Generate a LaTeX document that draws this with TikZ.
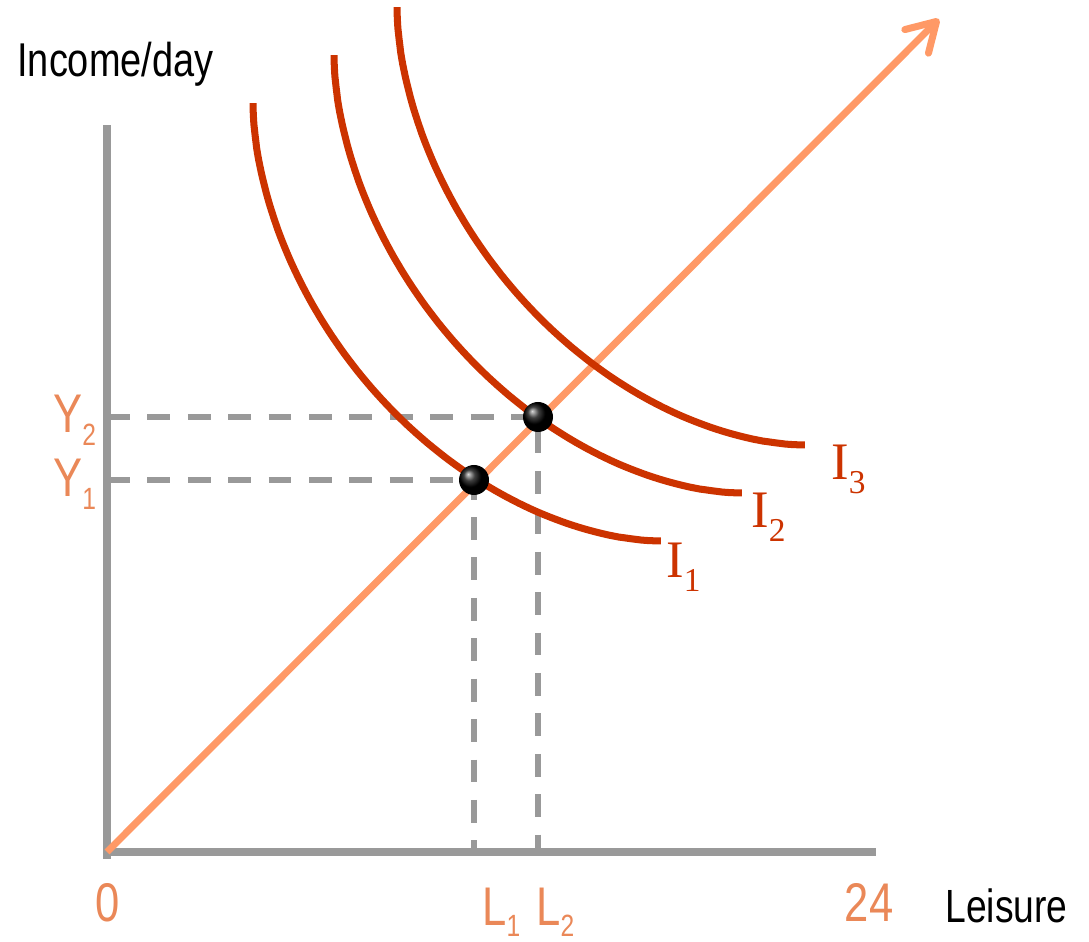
\documentclass[tikz,border=0pt]{standalone}
\usepackage{fontspec}
\usepackage{xcolor}
\usetikzlibrary{arrows.meta}
\setmainfont{Liberation Serif}
\newfontfamily\narrowsf[FakeStretch=0.8]{Liberation Sans}
\definecolor{axisgray}{HTML}{999999}
\definecolor{curvered}{HTML}{CC3300}
\definecolor{budgetorange}{HTML}{FF9966}
\definecolor{labelorange}{RGB}{234,136,88}
% subscript: size, drop, text
\newcommand{\lsub}[3]{\raisebox{-#2}{\fontsize{#1}{#1}\selectfont #3}}

\begin{document}
\begin{tikzpicture}[x=0.02cm,y=0.02cm,
  axis/.style={axisgray,line width=4pt},
  guide/.style={axisgray,line width=3.4pt,dash pattern=on 13pt off 10pt},
  indiff/.style={curvered,line width=4pt},
  budget/.style={budgetorange,line width=4pt,
    -{Straight Barb[length=16pt,width=19pt,round]}},
  axlab/.style={inner sep=0pt,labelorange,font=\narrowsf\fontsize{31}{33}\selectfont},
  txtlab/.style={inner sep=0pt,black,font=\narrowsf\fontsize{27}{30}\selectfont},
  curvelab/.style={inner sep=0pt,curvered,anchor=base west,font=\fontsize{30}{32}\selectfont}]
  \useasboundingbox (0,0) rectangle (1089,942);
  \coordinate (O) at (107,90);
  \coordinate (ytop) at (107,817);
  \coordinate (ybot) at (107,83);
  \coordinate (xend) at (876,90);
  \coordinate (tip) at (939,923);
  \coordinate (E1) at (474,462);
  \coordinate (E2) at (538,525);
  % axes
  \draw[axis] (ybot) -- (ytop);
  \draw[axis] (O) -- (xend);
  % guides to the axes
  \draw[guide] (O |- E2) -- (E2) -- (E2 |- O);
  \draw[guide] (O |- E1) -- (E1) -- (E1 |- O);
  % wage line
  \draw[budget] (O) -- (tip);
  % indifference curves (corner of each curve's box)
  \foreach \cx/\cy in {661/839, 742/887, 805/935}
    \draw[indiff] plot[domain=0.05:89.95,samples=100,variable=\t]
      ({\cx-408*cos(\t)^1.111},{\cy-438*sin(\t)^1.111});
  \shade[ball color=black] (E1) circle (0.3cm);
  \shade[ball color=black] (E2) circle (0.3cm);
  % labels
  \node[txtlab,anchor=base west] (inc) at (17,865) {Income/day};
  \node[txtlab,anchor=base west,font=\narrowsf\fontsize{26.5}{28}\selectfont] (leis) at (945,19) {Leisure};
  \node[axlab,anchor=base west] (y2) at (53,509) {Y\lsub{17.5}{7pt}{2}};
  \node[axlab,anchor=base west] (y1) at (53,445) {Y\lsub{17.5}{7pt}{1}};
  \node[axlab,anchor=base] (zero) at (108,20) {0};
  \node[axlab,anchor=base] (full) at (869,20) {24};
  \node[axlab,anchor=base west] (l1) at (482,16) {L\lsub{17.5}{6pt}{1}};
  \node[axlab,anchor=base west] (l2) at (536,16) {L\lsub{17.5}{6pt}{2}};
  \node[curvelab] (i1) at (666,364) {I\lsub{19}{7.5pt}{1}};
  \node[curvelab] (i2) at (751,414) {I\lsub{19}{7.5pt}{2}};
  \node[curvelab] (i3) at (831,462) {I\lsub{19}{7.5pt}{3}};
\end{tikzpicture}
\end{document}
